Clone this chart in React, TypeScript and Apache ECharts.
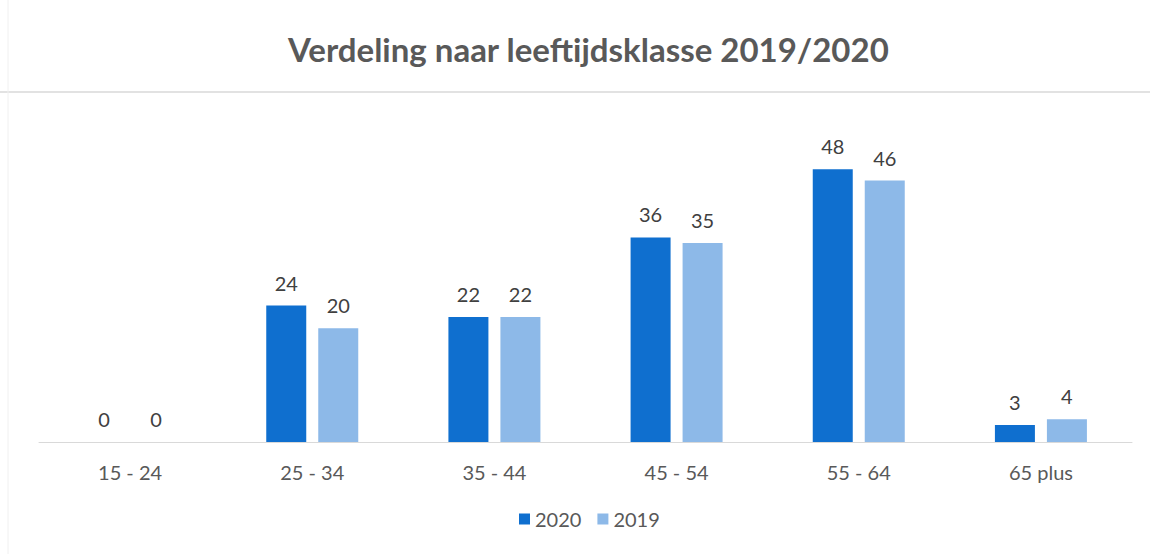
import React, { useEffect, useRef } from "react";
import * as echarts from "echarts";

const categories = ["15 - 24", "25 - 34", "35 - 44", "45 - 54", "55 - 64", "65 plus"];
const values2020 = [0, 24, 22, 36, 48, 3];
const values2019 = [0, 20, 22, 35, 46, 4];
const titleText = "Verdeling naar leeftijdsklasse 2019/2020";

const FONT = "Lato, 'Open Sans', sans-serif";

export default function App() {
  const ref = useRef<HTMLDivElement>(null);
  useEffect(() => {
    if (!ref.current) return;
    const chart = echarts.init(ref.current, null, { renderer: "svg" });
    chart.setOption({
      animation: false,
      backgroundColor: "#ffffff",
      textStyle: { fontFamily: FONT },
      title: {
        text: titleText,
        left: 283,
        top: 27,
        textStyle: { fontFamily: FONT, fontSize: 33, fontWeight: "bold", color: "#595959" },
      },
      graphic: [
        { type: "line", shape: { x1: 0, y1: 92, x2: 1150, y2: 92 }, style: { stroke: "#d9d9d9", lineWidth: 1.5 } },
        { type: "line", shape: { x1: 8, y1: 0, x2: 8, y2: 554 }, style: { stroke: "#f0f0f0", lineWidth: 1 } },
      ],
      legend: {
        data: ["2020", "2019"],
        bottom: 20,
        left: 514,
        itemWidth: 11,
        itemHeight: 11,
        itemGap: 16,
        icon: "rect",
        textStyle: { fontFamily: FONT, fontSize: 20, color: "#595959" },
      },
      grid: { left: 39, right: 18, top: 101, bottom: 112, containLabel: false },
      xAxis: {
        type: "category",
        data: categories,
        axisLine: { show: true, lineStyle: { color: "#d9d9d9", width: 1 } },
        axisTick: { show: false },
        axisLabel: { fontFamily: FONT, fontSize: 20, color: "#595959", margin: 20 },
      },
      yAxis: {
        type: "value",
        min: 0,
        max: 60,
        show: false,
        splitLine: { show: false },
      },
      series: [
        {
          name: "2020",
          type: "bar",
          data: values2020,
          barWidth: 40,
          barGap: "30%",
          itemStyle: { color: "#0F6FCF" },
          label: { show: true, position: "top", distance: 13, fontFamily: FONT, fontSize: 20, color: "#404040" },
        },
        {
          name: "2019",
          type: "bar",
          data: values2019,
          barWidth: 40,
          barGap: "30%",
          itemStyle: { color: "#8DB9E8" },
          label: { show: true, position: "top", distance: 13, fontFamily: FONT, fontSize: 20, color: "#404040" },
        },
      ],
    });
    return () => chart.dispose();
  }, []);
  return (
    <div
      ref={ref}
      style={{ position: "fixed", left: 0, top: 0, width: 1150, height: 554 }}
    />
  );
}
